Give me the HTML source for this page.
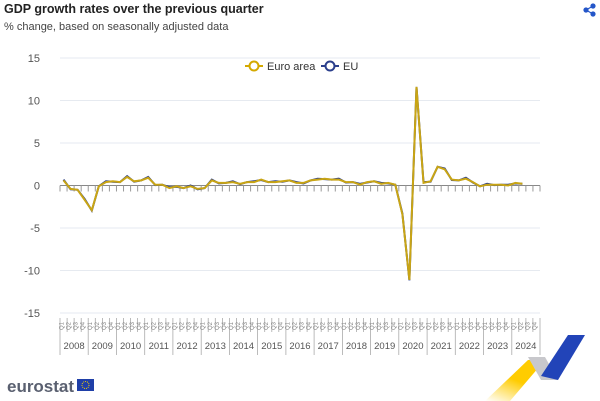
<!DOCTYPE html>
<html><head><meta charset="utf-8"><style>
body{margin:0;width:600px;height:401px;background:#fff;font-family:"Liberation Sans",Arial,sans-serif;overflow:hidden;position:relative}
.t{position:absolute;left:4px;top:2px;font-size:12.5px;font-weight:bold;color:#222}
.s{position:absolute;left:4px;top:21px;font-size:11px;color:#444}
svg{position:absolute;left:0;top:0}
</style></head><body>
<div class="t">GDP growth rates over the previous quarter</div>
<div class="s">% change, based on seasonally adjusted data</div>
<svg id="c" width="600" height="401" xmlns="http://www.w3.org/2000/svg"></svg>
<script>
var ea=[0.6,-0.4,-0.5,-1.7,-2.9,-0.1,0.4,0.5,0.4,1.0,0.5,0.6,0.9,0.1,0.1,-0.3,-0.1,-0.3,-0.1,-0.4,-0.3,0.6,0.3,0.3,0.4,0.2,0.4,0.4,0.7,0.4,0.4,0.5,0.6,0.3,0.3,0.6,0.7,0.8,0.7,0.7,0.4,0.4,0.1,0.4,0.5,0.2,0.3,0.1,-3.4,-11.1,11.6,0.3,0.5,2.2,1.9,0.7,0.6,0.8,0.4,-0.1,0.1,0.1,0.1,0.0,0.3,0.2];
var eu=ea.map(function(v,i){return v+(i%3==0?0.1:(i%3==1?-0.05:0));});
var L=60,R=540,W=(R-L)/68,Y0=185.5,K=8.5;
var h='';
[15,10,5,-5,-10,-15].forEach(function(v){var y=Y0-v*K;h+='<line x1="'+L+'" x2="'+R+'" y1="'+y+'" y2="'+y+'" stroke="#e6eaf0" stroke-width="1"/>';});
[15,10,5,0,-5,-10,-15].forEach(function(v){var y=Y0-v*K+4;h+='<text x="40" y="'+y+'" text-anchor="end" font-size="11" fill="#555">'+v+'</text>';});
h+='<line x1="'+L+'" x2="'+R+'" y1="'+Y0+'" y2="'+Y0+'" stroke="#888" stroke-width="1"/>';
for(var i=0;i<=68;i++){var x=L+i*W;h+='<line x1="'+x+'" x2="'+x+'" y1="'+Y0+'" y2="'+(Y0+6)+'" stroke="#999"/>';}
for(var i=0;i<=68;i++){var x=(L+i*W).toFixed(1);h+='<line x1="'+x+'" x2="'+x+'" y1="318" y2="'+(i%4==0?355:332)+'" stroke="#aaa" stroke-width="0.8"/>';}
for(var i=0;i<68;i++){var x=L+(i+0.5)*W;h+='<text x="'+x+'" y="326" text-anchor="middle" font-size="6" fill="#888" transform="rotate(-90 '+x+' 326)">Q'+(i%4+1)+'</text>';}
for(var y=0;y<17;y++){var x=L+(y*4+2)*W;h+='<text x="'+x+'" y="349" text-anchor="middle" font-size="9.5" fill="#555">'+(2008+y)+'</text>';}
function pts(a){return a.map(function(v,i){return (L+(i+0.5)*W).toFixed(1)+','+(Y0-v*K).toFixed(1);}).join(' ');}
h+='<polyline points="'+pts(eu)+'" fill="none" stroke="#2b3f8c" stroke-width="2"/>';
h+='<polyline points="'+pts(ea)+'" fill="none" stroke="#c9a514" stroke-width="2"/>';
h+='<line x1="245" x2="263" y1="66" y2="66" stroke="#d4a900" stroke-width="2"/><circle cx="254" cy="66" r="4.5" fill="#fff" stroke="#d4a900" stroke-width="2"/><text x="267" y="70" font-size="11" fill="#333">Euro area</text>';
h+='<line x1="321" x2="339" y1="66" y2="66" stroke="#2b3f8c" stroke-width="2"/><circle cx="330" cy="66" r="4.5" fill="#fff" stroke="#2b3f8c" stroke-width="2"/><text x="343" y="70" font-size="11" fill="#333">EU</text>';
h+='<text x="7" y="392" font-size="17" font-weight="bold" fill="#5a6070" textLength="67">eurostat</text><rect x="77" y="379" width="17" height="12" fill="#1f3fa8"/><circle cx="85.5" cy="385" r="3.5" fill="none" stroke="#f5d000" stroke-width="1" stroke-dasharray="1 1"/>';
h+='<defs><linearGradient id="g" x1="0" y1="1" x2="0.6" y2="0"><stop offset="0" stop-color="#ffd21a" stop-opacity="0"/><stop offset="0.6" stop-color="#ffcc00"/></linearGradient></defs>';
h+='<polygon points="485,401 510,401 545,360 528,360" fill="url(#g)"/><polygon points="528,357 545,357 558,380 541,380" fill="#c8c8cc"/><polygon points="541,376 558,380 585,335 568,335" fill="#2244b8"/>';
h+='<g fill="#2456c9" stroke="#2456c9" stroke-width="1.2"><circle cx="593" cy="6" r="2"/><circle cx="586" cy="10" r="2"/><circle cx="593" cy="14" r="2"/><line x1="593" y1="6" x2="586" y2="10"/><line x1="586" y1="10" x2="593" y2="14"/></g>';
document.getElementById('c').innerHTML=h;
</script>
</body></html>
